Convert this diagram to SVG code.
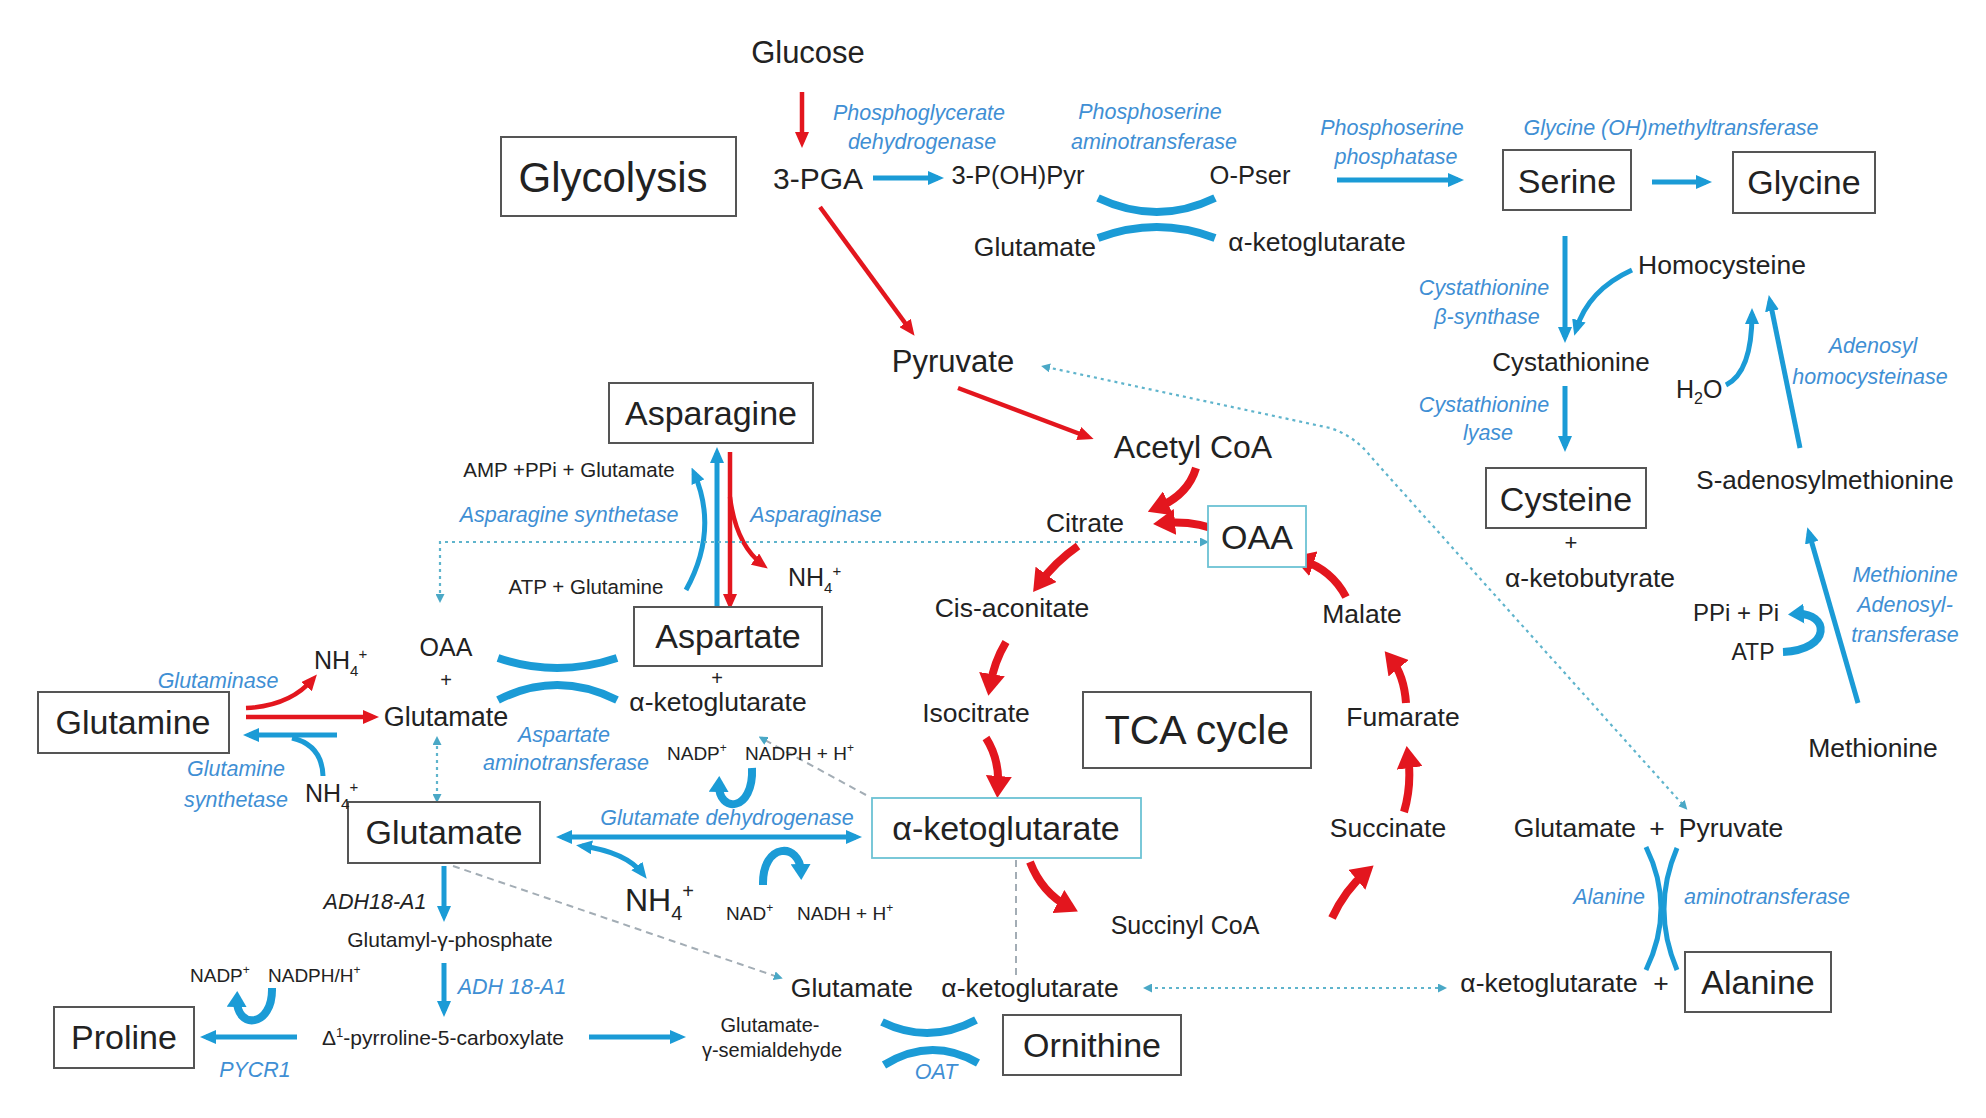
<svg xmlns="http://www.w3.org/2000/svg" width="1986" height="1118" viewBox="0 0 1986 1118">
<style>
text{font-family:"Liberation Sans",Arial,sans-serif;fill:#222}
.c{text-anchor:middle}
.e{font-style:italic;fill:#3f8fd4;font-size:21.5px;text-anchor:middle}
.box{fill:#fff;stroke:#555;stroke-width:2}
.tb{fill:#fff;stroke:#6cc2d4;stroke-width:1.8}
.bx{font-size:34px;text-anchor:middle}
.m{font-size:26.5px}
.s{font-size:20px}
.b{fill:none;stroke:#1b9bd6;stroke-width:5}
.bt{fill:none;stroke:#1b9bd6;stroke-width:8}
.r{fill:none;stroke:#e3161e;stroke-width:4.5}
.rt{fill:none;stroke:#e3161e;stroke-width:8}
.d{fill:none;stroke:#5fb4cc;stroke-width:2.2;stroke-dasharray:3 4}
.g{fill:none;stroke:#a3adb5;stroke-width:2;stroke-dasharray:7 5}
</style>
<defs>
<marker id="ab" markerUnits="userSpaceOnUse" markerWidth="16" markerHeight="14" refX="10" refY="7" orient="auto-start-reverse"><path d="M0,0 L16,7 L0,14 z" fill="#1b9bd6"/></marker>
<marker id="abw" markerUnits="userSpaceOnUse" markerWidth="16" markerHeight="20" refX="8" refY="10" orient="auto"><path d="M0,0 L16,10 L0,20 z" fill="#1b9bd6"/></marker>
<marker id="ar" markerUnits="userSpaceOnUse" markerWidth="16" markerHeight="14" refX="10" refY="7" orient="auto"><path d="M0,0 L16,7 L0,14 z" fill="#e3161e"/></marker>
<marker id="arb" markerUnits="userSpaceOnUse" markerWidth="22" markerHeight="26" refX="12" refY="13" orient="auto"><path d="M0,0 L22,13 L0,26 z" fill="#e3161e"/></marker>
<marker id="as" markerUnits="userSpaceOnUse" markerWidth="9" markerHeight="9" refX="4" refY="4.5" orient="auto-start-reverse"><path d="M0,0 L9,4.5 L0,9 z" fill="#4aa8c6"/></marker>
</defs>
<rect x="0" y="0" width="1986" height="1118" fill="#fff"/>

<g id="connectors">
<!-- red glycolysis -->
<path class="r" d="M802,92 L802,142" marker-end="url(#ar)"/>
<path class="r" d="M820,207 L911,331" marker-end="url(#ar)"/>
<path class="r" d="M958,388 L1088,437" marker-end="url(#ar)"/>
<!-- serine pathway -->
<path class="b" d="M873,178 L938,178" marker-end="url(#ab)"/>
<path class="bt" stroke-width="7" d="M1098,198 Q1157,226 1215,198"/>
<path class="bt" stroke-width="7" d="M1098,238 Q1157,216 1215,238"/>
<path class="b" d="M1337,180 L1458,180" marker-end="url(#ab)"/>
<path class="b" d="M1652,182 L1706,182" marker-end="url(#ab)"/>
<path class="b" d="M1565,236 L1565,337" marker-end="url(#ab)"/>
<path class="b" d="M1632,270 Q1588,290 1576,330" marker-end="url(#ab)"/>
<path class="b" d="M1565,386 L1565,446" marker-end="url(#ab)"/>
<path class="b" d="M1726,385 Q1752,372 1752,314" marker-end="url(#ab)"/>
<path class="b" d="M1800,448 L1770,301" marker-end="url(#ab)"/>
<path class="b" d="M1858,703 L1809,533" marker-end="url(#ab)"/>
<path class="bt" d="M1783,652 C1832,650 1830,612 1796,614" marker-end="url(#abw)"/>
<!-- TCA -->
<path class="rt" d="M1196,468 Q1188,495 1157,508" marker-end="url(#arb)"/>
<path class="rt" d="M1222,532 Q1195,520 1163,523" marker-end="url(#arb)"/>
<path class="rt" d="M1078,546 Q1055,562 1039,584" marker-end="url(#arb)"/>
<path class="rt" d="M1006,642 Q994,662 990,686" marker-end="url(#arb)"/>
<path class="rt" d="M986,738 Q1000,760 998,788" marker-end="url(#arb)"/>
<path class="rt" d="M1030,862 Q1042,893 1069,907" marker-end="url(#arb)"/>
<path class="rt" d="M1332,918 Q1345,890 1366,872" marker-end="url(#arb)"/>
<path class="rt" d="M1404,812 Q1412,785 1408,756" marker-end="url(#arb)"/>
<path class="rt" d="M1406,703 Q1404,675 1391,659" marker-end="url(#arb)"/>
<path class="rt" d="M1346,597 Q1332,570 1302,560" marker-end="url(#arb)"/>
<!-- asparagine -->
<path class="b" d="M717,607 L717,453" marker-end="url(#ab)"/>
<path class="r" d="M730,452 L730,604" marker-end="url(#ar)"/>
<path class="r" d="M730,497 Q736,545 763,565" marker-end="url(#ar)"/>
<path class="b" d="M686,590 Q719,530 694,473" marker-end="url(#ab)"/>
<!-- glutamine -->
<path class="r" stroke-width="6" d="M246,717 L373,717" marker-end="url(#ar)"/>
<path class="r" stroke-width="6" d="M246,708 Q290,706 313,679" marker-end="url(#ar)"/>
<path class="b" stroke-width="6" d="M337,735 L249,735" marker-end="url(#ab)"/>
<path class="b" stroke-width="6" d="M323,776 Q322,745 292,738"/>
<!-- aspartate aminotransferase -->
<path class="bt" stroke-width="7" d="M498,658 Q557,678 617,658"/>
<path class="bt" stroke-width="7" d="M498,700 Q557,670 617,700"/>
<!-- glutamate dehydrogenase -->
<path class="b" d="M562,837 L856,837" marker-start="url(#ab)" marker-end="url(#ab)"/>
<path class="b" d="M582,846 Q626,852 643,874" marker-start="url(#ab)" marker-end="url(#ab)"/>
<path class="bt" d="M752,768 C754,812 718,814 719,784" marker-end="url(#abw)"/>
<path class="bt" d="M763,885 C762,842 800,842 801,872" marker-end="url(#abw)"/>
<!-- proline -->
<path class="b" stroke-width="4" d="M444,866 L444,916" marker-end="url(#ab)"/>
<path class="b" stroke-width="4" d="M444,963 L444,1011" marker-end="url(#ab)"/>
<path class="b" d="M297,1037 L206,1037" marker-end="url(#ab)"/>
<path class="bt" d="M272,988 C273,1028 236,1030 237,999" marker-end="url(#abw)"/>
<path class="b" d="M589,1037 L680,1037" marker-end="url(#ab)"/>
<!-- OAT -->
<path class="bt" stroke-width="7" d="M882,1022 Q929,1045 976,1020"/>
<path class="bt" stroke-width="7" d="M884,1065 Q931,1036 978,1063"/>
<!-- alanine -->
<path class="b" d="M1646,847 Q1676,908 1646,970"/>
<path class="b" d="M1677,848 Q1651,909 1677,970"/>
<!-- dotted / dashed links -->
<path class="d" d="M1046,367 L1330,428 Q1355,436 1372,458 L1684,806" marker-start="url(#as)" marker-end="url(#as)"/>
<path class="d" d="M1204,542 L440,542 L440,598" marker-start="url(#as)" marker-end="url(#as)"/>
<path class="d" d="M437,798 L437,741" marker-start="url(#as)" marker-end="url(#as)"/>
<path class="d" d="M1148,988 L1442,988" marker-start="url(#as)" marker-end="url(#as)"/>
<path class="g" d="M866,795 L763,739" marker-end="url(#as)"/>
<path class="g" d="M453,866 L778,977" marker-end="url(#as)"/>
<path class="g" stroke-width="1.5" stroke-dasharray="5 4" d="M1016,860 L1016,975"/>
</g>

<g id="glycolysis"><rect class="box" x="501" y="137" width="235" height="79"/><text class="c" x="613" y="192" font-size="42">Glycolysis</text></g>
<g id="serine"><rect class="box" x="1503" y="150" width="128" height="60"/><text class="bx" x="1567" y="193" font-size="32">Serine</text></g>
<g id="glycine"><rect class="box" x="1733" y="152" width="142" height="61"/><text class="bx" x="1804" y="194" font-size="33">Glycine</text></g>
<g id="asparagine"><rect class="box" x="609" y="383" width="204" height="60"/><text class="bx" x="711" y="425">Asparagine</text></g>
<g id="aspartate"><rect class="box" x="634" y="607" width="188" height="59"/><text class="bx" x="728" y="648">Aspartate</text></g>
<g id="glutamine"><rect class="box" x="38" y="692" width="191" height="61"/><text class="bx" x="133" y="734">Glutamine</text></g>
<g id="glutamate-box"><rect class="box" x="348" y="802" width="192" height="61"/><text class="bx" x="444" y="844">Glutamate</text></g>
<g id="proline"><rect class="box" x="54" y="1007" width="140" height="61"/><text class="bx" x="124" y="1049">Proline</text></g>
<g id="cysteine"><rect class="box" x="1486" y="468" width="160" height="60"/><text class="bx" x="1566" y="511" font-size="33">Cysteine</text></g>
<g id="ornithine"><rect class="box" x="1003" y="1015" width="178" height="60"/><text class="bx" x="1092" y="1057" font-size="35">Ornithine</text></g>
<g id="alanine"><rect class="box" x="1685" y="952" width="146" height="60"/><text class="bx" x="1758" y="994" font-size="34">Alanine</text></g>
<g id="akg-tca"><rect class="tb" x="872" y="798" width="269" height="60"/><text class="bx" x="1006" y="840" font-size="35">α-ketoglutarate</text></g>
<g id="oaa-tca"><rect class="tb" x="1208" y="506" width="98" height="61"/><text class="bx" x="1257" y="549" font-size="32">OAA</text></g>
<g id="tca-cycle"><rect class="box" x="1083" y="692" width="228" height="76"/><text class="c" x="1197" y="744" font-size="41">TCA cycle</text></g>

<g id="glucose"><text class="c" x="808" y="63" font-size="31">Glucose</text></g>
<g id="pga"><text class="c" x="818" y="189" font-size="30">3-PGA</text></g>
<g id="pohpyr"><text class="c" x="1018" y="184" font-size="25.5">3-P(OH)Pyr</text></g>
<g id="opser"><text class="c" x="1250" y="184" font-size="25.5">O-Pser</text></g>
<g id="glu-top"><text class="c m" x="1035" y="256">Glutamate</text></g>
<g id="akg-top"><text class="c m" x="1317" y="251" font-size="27">α-ketoglutarate</text></g>
<g id="pyruvate"><text class="c" x="953" y="372" font-size="31">Pyruvate</text></g>
<g id="acetylcoa"><text class="c" x="1193" y="458" font-size="32">Acetyl CoA</text></g>
<g id="homocysteine"><text class="c m" x="1722" y="274">Homocysteine</text></g>
<g id="cystathionine"><text class="c" x="1571" y="371" font-size="26">Cystathionine</text></g>
<g id="h2o"><text x="1676" y="398" font-size="25">H<tspan font-size="16" dy="6">2</tspan><tspan dy="-6">O</tspan></text></g>
<g id="sam"><text class="c" x="1825" y="489" font-size="26">S-adenosylmethionine</text></g>
<g id="cys-plus"><text class="c" x="1571" y="550" font-size="22">+</text></g>
<g id="aketobutyrate"><text class="c m" x="1590" y="587" font-size="27">α-ketobutyrate</text></g>
<g id="ppi"><text class="c" x="1736" y="621" font-size="24">PPi + Pi</text></g>
<g id="atp"><text class="c" x="1753" y="660" font-size="23">ATP</text></g>
<g id="methionine"><text class="c m" x="1873" y="757" font-size="27">Methionine</text></g>
<g id="citrate"><text class="c m" x="1085" y="532">Citrate</text></g>
<g id="cisaconitate"><text class="c m" x="1012" y="617">Cis-aconitate</text></g>
<g id="isocitrate"><text class="c m" x="976" y="722">Isocitrate</text></g>
<g id="malate"><text class="c m" x="1362" y="623">Malate</text></g>
<g id="fumarate"><text class="c m" x="1403" y="726">Fumarate</text></g>
<g id="succinate"><text class="c m" x="1388" y="837">Succinate</text></g>
<g id="succinylcoa"><text class="c" x="1185" y="934" font-size="25">Succinyl CoA</text></g>
<g id="glu-pyr"><text class="c m" x="1575" y="837">Glutamate</text><text class="c m" x="1657" y="837">+</text><text class="c m" x="1731" y="837">Pyruvate</text></g>
<g id="akg-ala"><text class="c m" x="1549" y="992" font-size="27">α-ketoglutarate</text><text class="c m" x="1661" y="992">+</text></g>
<g id="glu-oat"><text class="c m" x="852" y="997">Glutamate</text></g>
<g id="akg-oat"><text class="c m" x="1030" y="997" font-size="27">α-ketoglutarate</text></g>
<g id="gsa"><text class="c s" x="770" y="1032">Glutamate-</text><text class="c s" x="772" y="1057">γ-semialdehyde</text></g>
<g id="oaa-glu"><text class="c" x="446" y="656" font-size="25">OAA</text><text class="c s" x="446" y="687">+</text><text class="c" x="446" y="726" font-size="27">Glutamate</text></g>
<g id="akg-asp"><text class="c s" x="717" y="685">+</text><text class="c m" x="718" y="711" font-size="27">α-ketoglutarate</text></g>
<g id="nh4-1"><text x="314" y="669" font-size="25">NH<tspan font-size="15" dy="7">4</tspan><tspan font-size="15" dy="-17">+</tspan></text></g>
<g id="nh4-2"><text x="305" y="802" font-size="25">NH<tspan font-size="15" dy="7">4</tspan><tspan font-size="15" dy="-17">+</tspan></text></g>
<g id="nh4-3"><text x="788" y="586" font-size="25">NH<tspan font-size="15" dy="7">4</tspan><tspan font-size="15" dy="-17">+</tspan></text></g>
<g id="nh4-4"><text x="625" y="911" font-size="32">NH<tspan font-size="20" dy="9">4</tspan><tspan font-size="20" dy="-22">+</tspan></text></g>
<g id="amp"><text class="c" x="569" y="477" font-size="20.5">AMP +PPi + Glutamate</text></g>
<g id="atp-gln"><text class="c" x="586" y="594" font-size="20.5">ATP + Glutamine</text></g>
<g id="nadp-mid"><text x="667" y="760" font-size="19">NADP<tspan font-size="12" dy="-8">+</tspan></text><text x="745" y="760" font-size="19">NADPH + H<tspan font-size="12" dy="-8">+</tspan></text></g>
<g id="nad-mid"><text x="726" y="920" font-size="19">NAD<tspan font-size="12" dy="-8">+</tspan></text><text x="797" y="920" font-size="19">NADH + H<tspan font-size="12" dy="-8">+</tspan></text></g>
<g id="nadp-left"><text x="190" y="982" font-size="19">NADP<tspan font-size="12" dy="-8">+</tspan></text><text x="268" y="982" font-size="19">NADPH/H<tspan font-size="12" dy="-8">+</tspan></text></g>
<g id="glutamyl"><text class="c" x="450" y="947" font-size="21">Glutamyl-γ-phosphate</text></g>
<g id="p5c"><text class="c" x="443" y="1045" font-size="21">Δ<tspan font-size="13" dy="-8">1</tspan><tspan dy="8">-pyrroline-5-carboxylate</tspan></text></g>

<g id="enzymes">
<text class="e" x="919" y="120">Phosphoglycerate</text><text class="e" x="922" y="149">dehydrogenase</text>
<text class="e" x="1150" y="119">Phosphoserine</text><text class="e" x="1154" y="149">aminotransferase</text>
<text class="e" x="1392" y="135">Phosphoserine</text><text class="e" x="1396" y="164">phosphatase</text>
<text class="e" x="1671" y="135">Glycine (OH)methyltransferase</text>
<text class="e" x="1484" y="295">Cystathionine</text><text class="e" x="1487" y="324">β-synthase</text>
<text class="e" x="1484" y="412">Cystathionine</text><text class="e" x="1488" y="440">lyase</text>
<text class="e" x="1873" y="353">Adenosyl</text><text class="e" x="1870" y="384">homocysteinase</text>
<text class="e" x="1905" y="582">Methionine</text><text class="e" x="1905" y="612">Adenosyl-</text><text class="e" x="1905" y="642">transferase</text>
<text class="e" x="569" y="522">Asparagine synthetase</text>
<text class="e" x="816" y="522">Asparaginase</text>
<text class="e" x="218" y="688" font-size="19">Glutaminase</text>
<text class="e" x="236" y="776" font-size="20">Glutamine</text><text class="e" x="236" y="807" font-size="20">synthetase</text>
<text class="e" x="564" y="742">Aspartate</text><text class="e" x="566" y="770">aminotransferase</text>
<text class="e" x="727" y="825">Glutamate dehydrogenase</text>
<text class="e" x="375" y="909" font-size="20" style="fill:#222">ADH18-A1</text>
<text class="e" x="512" y="994">ADH 18-A1</text>
<text class="e" x="255" y="1077" font-size="19">PYCR1</text>
<text class="e" x="936" y="1079" font-size="19">OAT</text>
<text class="e" x="1609" y="904">Alanine</text><text class="e" x="1767" y="904">aminotransferase</text>
</g>
</svg>
